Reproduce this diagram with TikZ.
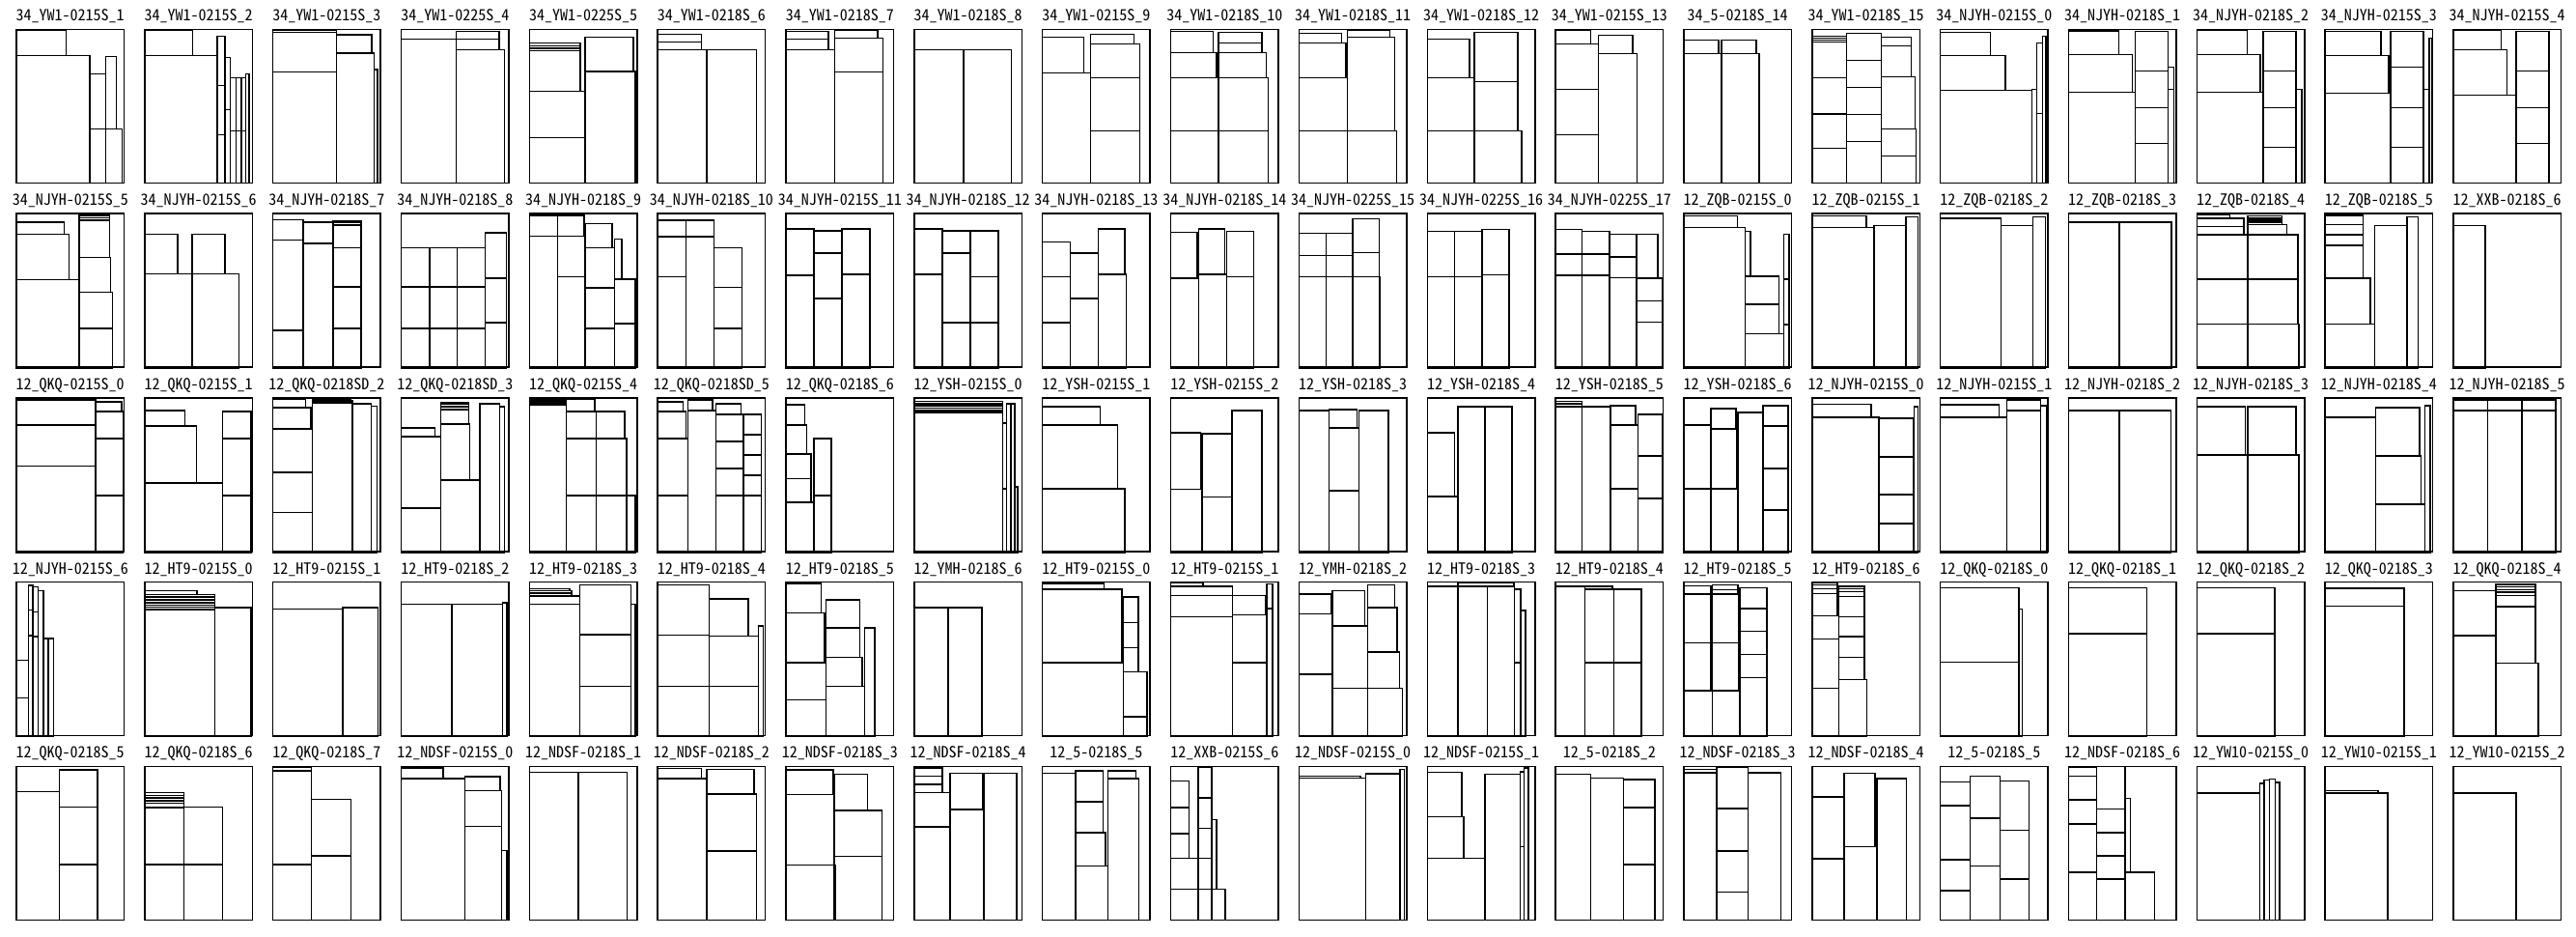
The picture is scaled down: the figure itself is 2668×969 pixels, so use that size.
\documentclass[tikz,border=0pt]{standalone}
\usepackage{fontspec}
\newfontfamily\lblfont[RawFeature=+hwid]{Noto Sans CJK JP}
\tikzset{
  pc/.style={draw=black, line width=0.45pt},
  lbl/.style={font=\lblfont\fontsize{4.8}{5}\selectfont, inner sep=0pt, anchor=base}
}
\newcommand\pnl[6]{%
  \pgfmathsetmacro\pxo{17+132.84*#1}%
  \pgfmathsetmacro\pyo{30.3+190.8*#2}%
  \pgfmathsetmacro\psx{\pxo-#3*0.42535}%
  \pgfmathsetmacro\psy{\pyo-#4/3}%
  \node[lbl] (lab-#1-#2) at (\pxo+55.75,\pyo-8.7) {#5};
  \begin{scope}[shift={(\psx,\psy)},xscale=0.42535,yscale=0.333333]
    \draw[pc] #6;
  \end{scope}
  \draw[pc] (\pxo,\pyo) rectangle ++(111.5,159);
}
\begin{document}
\begin{tikzpicture}[x=0.3pt,y=-0.3pt]
\fill[white] (0,0) rectangle (2668,969);
\useasboundingbox (0,0) rectangle (2668,969);
% ---------- row 1 ----------
\pnl{0}{0}{40}{91}{34\_YW1-0215S\_1}{(40,91) rectangle (161,94) (40,94) rectangle (161,172) (40,172) rectangle (219,568) (219,229) rectangle (257,400) (219,400) rectangle (257,568) (257,175) rectangle (283,400) (257,400) rectangle (297,568)}
\pnl{1}{0}{354}{91}{34\_YW1-0215S\_2}{(354,91) rectangle (471,94) (354,94) rectangle (471,172) (354,172) rectangle (531,568) (531,112) rectangle (549,266) (531,266) rectangle (549,418) (531,418) rectangle (549,568) (549,178) rectangle (563,341) (549,341) rectangle (563,568) (563,241) rectangle (577,406) (563,406) rectangle (577,568) (577,241) rectangle (589,406) (577,406) rectangle (589,568) (589,241) rectangle (600,406) (589,406) rectangle (600,568) (600,229) rectangle (608,568)}
\pnl{2}{0}{666}{91}{34\_YW1-0215S\_3}{(666,93) rectangle (821,100) (666,100) rectangle (821,224) (666,224) rectangle (821,568) (821,108) rectangle (906,165) (821,165) rectangle (913,568) (913,216) rectangle (921,568)}
\pnl{3}{0}{979}{91}{34\_YW1-0225S\_4}{(979,121) rectangle (1113,568) (1113,97) rectangle (1217,121) (1113,121) rectangle (1217,154) (1113,154) rectangle (1231,568)}
\pnl{4}{0}{1290}{91}{34\_YW1-0225S\_5}{(1290,133) rectangle (1414,143) (1290,143) rectangle (1414,150) (1290,150) rectangle (1414,158) (1290,158) rectangle (1414,284) (1290,284) rectangle (1426,428) (1290,428) rectangle (1426,568) (1426,116) rectangle (1543,222) (1426,222) rectangle (1548,568)}
\pnl{5}{0}{33}{91}{34\_YW1-0218S\_6}{(33,106) rectangle (139,130) (33,130) rectangle (139,155) (33,155) rectangle (153,568) (153,155) rectangle (273,568)}
\pnl{6}{0}{347}{91}{34\_YW1-0218S\_7}{(347,98) rectangle (450,122) (347,122) rectangle (450,155) (347,155) rectangle (466,568) (466,95) rectangle (570,119) (466,119) rectangle (583,224) (466,224) rectangle (583,568)}
\pnl{7}{0}{659}{91}{34\_YW1-0218S\_8}{(659,155) rectangle (779,568) (779,155) rectangle (896,568)}
\pnl{8}{0}{972}{91}{34\_YW1-0215S\_9}{(972,116) rectangle (1073,227) (972,227) rectangle (1089,568) (1089,107) rectangle (1195,137) (1089,137) rectangle (1209,242) (1089,242) rectangle (1209,407) (1089,407) rectangle (1209,568)}
\pnl{9}{0}{1285}{91}{34\_YW1-0218S\_10}{(1285,98) rectangle (1388,163) (1285,163) rectangle (1397,242) (1285,242) rectangle (1401,407) (1285,407) rectangle (1401,568) (1401,101) rectangle (1507,133) (1401,133) rectangle (1507,163) (1401,163) rectangle (1517,242) (1401,242) rectangle (1522,407) (1401,407) rectangle (1522,568)}
\pnl{10}{0}{29}{91}{34\_YW1-0218S\_11}{(29,103) rectangle (133,133) (29,133) rectangle (143,241) (29,241) rectangle (147,407) (29,407) rectangle (147,568) (147,93) rectangle (250,116) (147,116) rectangle (262,407) (147,407) rectangle (267,568)}
\pnl{11}{0}{340}{91}{34\_YW1-0218S\_12}{(340,121) rectangle (443,241) (340,241) rectangle (455,407) (340,407) rectangle (455,568) (455,100) rectangle (560,254) (455,254) rectangle (560,407) (455,407) rectangle (570,568)}
\pnl{12}{0}{652}{91}{34\_YW1-0215S\_13}{(652,93) rectangle (737,137) (652,137) rectangle (756,277) (652,277) rectangle (756,418) (652,418) rectangle (756,568) (756,109) rectangle (840,166) (756,166) rectangle (850,568)}
\pnl{13}{0}{965}{91}{34\_5-0218S\_14}{(965,124) rectangle (1050,166) (1057,124) rectangle (1141,166) (965,166) rectangle (1057,568) (1057,166) rectangle (1149,568)}
\pnl{14}{0}{1277}{91}{34\_YW1-0218S\_15}{(1277,112) rectangle (1361,118) (1277,118) rectangle (1361,124) (1277,124) rectangle (1361,131) (1277,131) rectangle (1361,241) (1277,241) rectangle (1361,354) (1277,354) rectangle (1361,461) (1277,461) rectangle (1361,568) (1361,103) rectangle (1446,187) (1361,187) rectangle (1446,271) (1361,271) rectangle (1446,355) (1361,355) rectangle (1446,439) (1361,439) rectangle (1446,568) (1446,115) rectangle (1519,142) (1446,142) rectangle (1519,238) (1446,238) rectangle (1528,400) (1446,400) rectangle (1530,485) (1446,485) rectangle (1530,568)}
\pnl{15}{0}{22}{91}{34\_NJYH-0215S\_0}{(22,100) rectangle (144,172) (22,172) rectangle (180,281) (22,281) rectangle (245,568) (245,277) rectangle (257,568) (257,133) rectangle (271,353) (257,353) rectangle (271,568) (271,112) rectangle (279,568)}
\pnl{16}{0}{335}{91}{34\_NJYH-0218S\_1}{(335,93) rectangle (457,96) (335,96) rectangle (457,170) (335,170) rectangle (490,287) (335,287) rectangle (497,568) (497,97) rectangle (577,220) (497,220) rectangle (577,334) (497,334) rectangle (577,446) (497,446) rectangle (577,568) (577,209) rectangle (591,278) (577,278) rectangle (591,568)}
\pnl{17}{0}{647}{91}{34\_NJYH-0218S\_2}{(647,93) rectangle (770,170) (647,170) rectangle (802,287) (647,287) rectangle (809,568) (809,97) rectangle (889,220) (809,220) rectangle (889,334) (809,334) rectangle (889,458) (809,458) rectangle (889,568) (889,278) rectangle (902,568)}
\pnl{18}{0}{958}{91}{34\_NJYH-0215S\_3}{(958,97) rectangle (1094,173) (958,173) rectangle (1113,290) (958,290) rectangle (1118,568) (1118,97) rectangle (1197,208) (1118,208) rectangle (1197,334) (1118,334) rectangle (1197,458) (1118,458) rectangle (1197,568) (1197,277) rectangle (1211,568) (1211,119) rectangle (1217,568)}
\pnl{19}{0}{1270}{91}{34\_NJYH-0215S\_4}{(1270,93) rectangle (1386,155) (1270,155) rectangle (1400,296) (1270,296) rectangle (1423,568) (1423,97) rectangle (1503,220) (1423,220) rectangle (1503,334) (1423,334) rectangle (1503,446) (1423,446) rectangle (1503,568)}
% ---------- row 2 ----------
\pnl{0}{1}{40}{663}{34\_NJYH-0215S\_5}{(40,690) rectangle (156,727) (40,727) rectangle (168,868) (40,868) rectangle (193,1143) (193,669) rectangle (267,676) (193,676) rectangle (267,683) (193,683) rectangle (267,799) (193,799) rectangle (269,907) (193,907) rectangle (274,1019) (193,1019) rectangle (274,1143)}
\pnl{1}{1}{354}{663}{34\_NJYH-0215S\_6}{(354,727) rectangle (434,850) (469,727) rectangle (549,850) (354,850) rectangle (469,1143) (469,850) rectangle (584,1143)}
\pnl{2}{1}{666}{663}{34\_NJYH-0218S\_7}{(666,682) rectangle (740,745) (666,745) rectangle (740,1025) (666,1025) rectangle (740,1143) (740,690) rectangle (812,755) (740,755) rectangle (812,1143) (812,685) rectangle (881,690) (812,690) rectangle (881,698) (812,698) rectangle (881,769) (812,769) rectangle (881,891) (812,891) rectangle (881,1019) (812,1019) rectangle (881,1143)}
\pnl{3}{1}{979}{663}{34\_NJYH-0218S\_8}{(979,769) rectangle (1048,891) (1048,769) rectangle (1115,891) (1115,769) rectangle (1184,891) (979,891) rectangle (1048,1019) (1048,891) rectangle (1115,1019) (1115,891) rectangle (1184,1019) (979,1019) rectangle (1048,1143) (1048,1019) rectangle (1115,1143) (1115,1019) rectangle (1184,1143) (1184,723) rectangle (1235,864) (1184,864) rectangle (1235,1002) (1184,1002) rectangle (1235,1143)}
\pnl{4}{1}{1290}{663}{34\_NJYH-0218S\_9}{(1290,665) rectangle (1358,668) (1358,665) rectangle (1423,668) (1290,668) rectangle (1358,733) (1358,668) rectangle (1423,733) (1290,733) rectangle (1358,1143) (1358,733) rectangle (1426,859) (1358,859) rectangle (1426,1143) (1426,694) rectangle (1491,769) (1426,769) rectangle (1497,893) (1426,893) rectangle (1497,1019) (1426,1019) rectangle (1497,1143) (1497,742) rectangle (1515,866) (1497,866) rectangle (1548,1004) (1497,1004) rectangle (1548,1143)}
\pnl{5}{1}{33}{663}{34\_NJYH-0218S\_10}{(33,683) rectangle (102,735) (102,683) rectangle (170,735) (33,735) rectangle (102,859) (33,859) rectangle (102,1143) (102,735) rectangle (170,1143) (170,769) rectangle (238,892) (170,892) rectangle (238,1019) (170,1019) rectangle (238,1143)}
\pnl{6}{1}{347}{663}{34\_NJYH-0215S\_11}{(347,710) rectangle (415,855) (347,855) rectangle (415,1143) (415,716) rectangle (483,785) (415,785) rectangle (483,927) (415,927) rectangle (483,1143) (483,710) rectangle (551,851) (483,851) rectangle (551,1143)}
\pnl{7}{1}{659}{663}{34\_NJYH-0218S\_12}{(659,710) rectangle (727,851) (659,851) rectangle (727,1143) (727,716) rectangle (796,785) (727,785) rectangle (796,1001) (727,1001) rectangle (796,1143) (796,716) rectangle (864,859) (796,859) rectangle (864,1001) (796,1001) rectangle (864,1143)}
\pnl{8}{1}{972}{663}{34\_NJYH-0218S\_13}{(972,751) rectangle (1040,859) (972,859) rectangle (1040,1001) (972,1001) rectangle (1040,1143) (1040,785) rectangle (1108,927) (1040,927) rectangle (1108,1143) (1108,710) rectangle (1172,851) (1108,851) rectangle (1176,1143)}
\pnl{9}{1}{1285}{663}{34\_NJYH-0218S\_14}{(1285,721) rectangle (1349,864) (1285,864) rectangle (1353,1143) (1353,710) rectangle (1417,851) (1353,851) rectangle (1421,1143) (1421,718) rectangle (1487,859) (1421,859) rectangle (1487,1143)}
\pnl{10}{1}{29}{663}{34\_NJYH-0225S\_15}{(29,724) rectangle (95,793) (95,724) rectangle (160,793) (29,793) rectangle (95,859) (95,793) rectangle (160,859) (160,679) rectangle (224,784) (160,784) rectangle (224,859) (29,859) rectangle (95,1143) (95,859) rectangle (160,1143) (160,859) rectangle (226,1143)}
\pnl{11}{1}{340}{663}{34\_NJYH-0225S\_16}{(340,718) rectangle (406,859) (406,718) rectangle (473,859) (473,712) rectangle (539,853) (340,859) rectangle (406,1143) (406,859) rectangle (473,1143) (473,853) rectangle (539,1143)}
\pnl{12}{1}{652}{663}{34\_NJYH-0225S\_17}{(652,712) rectangle (717,789) (717,718) rectangle (783,789) (652,789) rectangle (717,855) (717,789) rectangle (783,855) (783,727) rectangle (849,797) (783,797) rectangle (849,862) (849,727) rectangle (901,864) (652,855) rectangle (717,1143) (717,855) rectangle (783,1143) (783,862) rectangle (849,1143) (849,864) rectangle (913,934) (849,934) rectangle (913,1000) (849,1000) rectangle (913,1143)}
\pnl{13}{1}{965}{663}{12\_ZQB-0215S\_0}{(965,670) rectangle (1096,706) (965,706) rectangle (1114,1143) (1114,718) rectangle (1127,857) (1114,857) rectangle (1197,945) (1114,945) rectangle (1197,1036) (1114,1036) rectangle (1209,1143) (1209,727) rectangle (1221,866) (1209,866) rectangle (1221,1007) (1209,1007) rectangle (1221,1143)}
\pnl{14}{1}{1277}{663}{12\_ZQB-0215S\_1}{(1277,670) rectangle (1409,706) (1277,706) rectangle (1428,1143) (1428,700) rectangle (1506,1143) (1506,673) rectangle (1535,1143)}
\pnl{15}{1}{22}{663}{12\_ZQB-0218S\_2}{(22,677) rectangle (170,1143) (170,700) rectangle (247,1143) (247,673) rectangle (278,1143)}
\pnl{16}{1}{335}{663}{12\_ZQB-0218S\_3}{(335,689) rectangle (459,1143) (459,689) rectangle (586,1143)}
\pnl{17}{1}{647}{663}{12\_ZQB-0218S\_4}{(647,665) rectangle (727,677) (647,677) rectangle (762,703) (647,703) rectangle (762,728) (771,670) rectangle (854,677) (771,677) rectangle (854,684) (771,684) rectangle (854,690) (771,690) rectangle (854,697) (771,697) rectangle (866,728) (647,728) rectangle (771,866) (771,728) rectangle (893,866) (647,866) rectangle (771,1006) (771,866) rectangle (893,1006) (647,1006) rectangle (771,1143) (771,1006) rectangle (896,1143)}
\pnl{18}{1}{958}{663}{12\_ZQB-0218S\_5}{(958,665) rectangle (1051,668) (958,668) rectangle (1051,697) (958,697) rectangle (1051,729) (958,729) rectangle (1051,762) (958,762) rectangle (1051,864) (958,864) rectangle (1068,1006) (958,1006) rectangle (1079,1143) (1079,700) rectangle (1157,1143) (1157,673) rectangle (1185,1143)}
\pnl{19}{1}{1270}{663}{12\_XXB-0218S\_6}{(1270,700) rectangle (1348,1143)}
% ---------- row 3 ----------
\pnl{0}{2}{40}{88}{12\_QKQ-0215S\_0}{(40,90) rectangle (233,95) (40,95) rectangle (233,173) (40,173) rectangle (233,300) (40,300) rectangle (233,568) (233,100) rectangle (296,130) (233,130) rectangle (300,214) (233,214) rectangle (300,391) (233,391) rectangle (300,568)}
\pnl{1}{2}{354}{88}{12\_QKQ-0215S\_1}{(354,127) rectangle (452,175) (354,175) rectangle (480,352) (354,352) rectangle (544,568) (544,130) rectangle (613,214) (544,214) rectangle (613,391) (544,391) rectangle (613,568)}
\pnl{2}{2}{666}{88}{12\_QKQ-0218SD\_2}{(666,93) rectangle (746,118) (666,118) rectangle (758,185) (666,185) rectangle (762,320) (666,320) rectangle (762,444) (666,444) rectangle (762,568) (762,92) rectangle (856,98) (762,98) rectangle (860,103) (762,103) rectangle (860,568) (860,106) rectangle (905,568) (905,114) rectangle (920,568)}
\pnl{3}{2}{979}{88}{12\_QKQ-0218SD\_3}{(979,181) rectangle (1061,208) (979,208) rectangle (1075,431) (979,431) rectangle (1075,568) (1075,103) rectangle (1143,108) (1075,108) rectangle (1143,116) (1075,116) rectangle (1143,124) (1075,124) rectangle (1143,170) (1075,170) rectangle (1146,344) (1075,344) rectangle (1171,568) (1171,107) rectangle (1219,568) (1219,116) rectangle (1231,568)}
\pnl{4}{2}{1290}{88}{12\_QKQ-0215S\_4}{(1290,91) rectangle (1380,97) (1290,97) rectangle (1380,103) (1290,103) rectangle (1380,110) (1290,110) rectangle (1380,568) (1380,93) rectangle (1449,130) (1380,130) rectangle (1453,214) (1453,130) rectangle (1522,214) (1380,214) rectangle (1453,391) (1453,214) rectangle (1526,391) (1380,391) rectangle (1453,568) (1453,391) rectangle (1526,568) (1526,391) rectangle (1548,568)}
\pnl{5}{2}{33}{88}{12\_QKQ-0218SD\_5}{(33,100) rectangle (95,130) (33,130) rectangle (102,214) (33,214) rectangle (106,391) (33,391) rectangle (106,568) (106,95) rectangle (167,127) (106,127) rectangle (175,568) (175,106) rectangle (236,140) (175,140) rectangle (242,224) (175,224) rectangle (242,308) (175,308) rectangle (242,391) (175,391) rectangle (242,568) (242,140) rectangle (285,203) (242,203) rectangle (285,266) (242,266) rectangle (285,329) (242,329) rectangle (285,391) (242,391) rectangle (285,568)}
\pnl{6}{2}{347}{88}{12\_QKQ-0218S\_6}{(347,109) rectangle (393,173) (347,173) rectangle (398,262) (347,262) rectangle (408,339) (347,339) rectangle (408,412) (347,412) rectangle (415,568) (415,214) rectangle (457,391) (415,391) rectangle (457,568)}
\pnl{7}{2}{659}{88}{12\_YSH-0215S\_0}{(659,99) rectangle (874,106) (659,106) rectangle (874,113) (659,113) rectangle (874,120) (659,120) rectangle (874,127) (659,127) rectangle (874,134) (659,134) rectangle (874,568) (874,166) rectangle (884,371) (874,371) rectangle (884,568) (884,106) rectangle (894,568) (894,106) rectangle (904,568) (904,364) rectangle (911,568)}
\pnl{8}{2}{972}{88}{12\_YSH-0215S\_1}{(972,116) rectangle (1112,173) (972,173) rectangle (1155,371) (972,371) rectangle (1173,568)}
\pnl{9}{2}{1285}{88}{12\_YSH-0215S\_2}{(1285,197) rectangle (1358,372) (1285,372) rectangle (1361,568) (1361,200) rectangle (1434,396) (1361,396) rectangle (1434,568) (1434,127) rectangle (1507,568)}
\pnl{10}{2}{29}{88}{12\_YSH-0218S\_3}{(29,127) rectangle (102,568) (102,124) rectangle (170,181) (102,181) rectangle (175,377) (102,377) rectangle (175,568) (175,127) rectangle (247,568)}
\pnl{11}{2}{340}{88}{12\_YSH-0218S\_4}{(340,197) rectangle (406,394) (340,394) rectangle (415,568) (415,116) rectangle (481,568) (481,116) rectangle (546,568)}
\pnl{12}{2}{652}{88}{12\_YSH-0218S\_5}{(652,99) rectangle (717,106) (652,106) rectangle (717,116) (652,116) rectangle (717,568) (717,116) rectangle (786,568) (786,113) rectangle (847,173) (786,173) rectangle (853,371) (786,371) rectangle (853,568) (853,140) rectangle (913,268) (853,268) rectangle (913,400) (853,400) rectangle (913,568)}
\pnl{13}{2}{965}{88}{12\_YSH-0218S\_6}{(965,173) rectangle (1031,371) (965,371) rectangle (1031,568) (1031,121) rectangle (1092,184) (1031,184) rectangle (1094,371) (1031,371) rectangle (1097,568) (1097,133) rectangle (1158,568) (1158,112) rectangle (1219,176) (1158,176) rectangle (1219,307) (1158,307) rectangle (1219,437) (1158,437) rectangle (1219,568)}
\pnl{14}{2}{1277}{88}{12\_NJYH-0215S\_0}{(1277,108) rectangle (1421,148) (1277,148) rectangle (1440,568) (1440,151) rectangle (1523,271) (1440,271) rectangle (1523,388) (1440,388) rectangle (1523,479) (1440,479) rectangle (1523,568) (1525,116) rectangle (1535,568)}
\pnl{15}{2}{22}{88}{12\_NJYH-0215S\_1}{(22,109) rectangle (165,148) (22,148) rectangle (184,568) (184,95) rectangle (266,127) (184,127) rectangle (266,568) (266,113) rectangle (281,568)}
\pnl{16}{2}{335}{88}{12\_NJYH-0218S\_2}{(335,127) rectangle (459,568) (459,127) rectangle (584,568)}
\pnl{17}{2}{647}{88}{12\_NJYH-0218S\_3}{(647,116) rectangle (765,265) (771,116) rectangle (889,265) (647,265) rectangle (771,568) (771,265) rectangle (896,568)}
\pnl{18}{2}{958}{88}{12\_NJYH-0218S\_4}{(958,148) rectangle (1081,568) (1081,119) rectangle (1188,268) (1081,268) rectangle (1192,418) (1081,418) rectangle (1201,568) (1201,112) rectangle (1214,568)}
\pnl{19}{2}{1270}{88}{12\_NJYH-0218S\_5}{(1270,95) rectangle (1354,127) (1354,95) rectangle (1437,127) (1437,95) rectangle (1519,127) (1270,127) rectangle (1354,568) (1354,127) rectangle (1437,568) (1437,127) rectangle (1519,568)}
% ---------- row 4 ----------
\pnl{0}{3}{40}{663}{12\_NJYH-0215S\_6}{(40,905) rectangle (69,1022) (40,1022) rectangle (69,1141) (69,673) rectangle (80,750) (69,750) rectangle (80,829) (69,829) rectangle (80,1141) (80,677) rectangle (93,755) (80,755) rectangle (93,832) (80,832) rectangle (93,1141) (93,690) rectangle (106,1141) (106,838) rectangle (118,1141) (118,838) rectangle (130,1141)}
\pnl{1}{3}{354}{663}{12\_HT9-0215S\_0}{(354,690) rectangle (481,702) (354,702) rectangle (525,709) (354,709) rectangle (525,718) (354,718) rectangle (525,727) (354,727) rectangle (525,735) (354,735) rectangle (525,741) (354,741) rectangle (525,748) (354,748) rectangle (525,1141) (525,742) rectangle (613,1141)}
\pnl{2}{3}{666}{663}{12\_HT9-0215S\_1}{(666,747) rectangle (836,1141) (836,742) rectangle (922,1141)}
\pnl{3}{3}{979}{663}{12\_HT9-0218S\_2}{(979,731) rectangle (1102,1141) (1102,731) rectangle (1226,1141) (1226,727) rectangle (1236,1141)}
\pnl{4}{3}{1290}{663}{12\_HT9-0218S\_3}{(1290,684) rectangle (1388,690) (1290,690) rectangle (1392,697) (1290,697) rectangle (1392,706) (1290,706) rectangle (1413,731) (1290,731) rectangle (1413,1141) (1413,671) rectangle (1537,826) (1413,826) rectangle (1537,986) (1413,986) rectangle (1537,1141) (1537,731) rectangle (1548,1141)}
\pnl{5}{3}{33}{663}{12\_HT9-0218S\_4}{(33,671) rectangle (158,827) (33,827) rectangle (158,986) (33,986) rectangle (158,1141) (158,715) rectangle (254,830) (158,830) rectangle (278,986) (158,986) rectangle (278,1141) (278,799) rectangle (290,1141)}
\pnl{6}{3}{347}{663}{12\_HT9-0218S\_5}{(347,665) rectangle (433,667) (347,667) rectangle (433,758) (347,758) rectangle (441,913) (347,913) rectangle (445,1028) (347,1028) rectangle (445,1141) (445,718) rectangle (527,805) (445,805) rectangle (527,897) (445,897) rectangle (533,986) (445,986) rectangle (539,1141) (539,805) rectangle (563,1141)}
\pnl{7}{3}{659}{663}{12\_YMH-0218S\_6}{(659,742) rectangle (741,1141) (741,742) rectangle (824,1141)}
\pnl{8}{3}{972}{663}{12\_HT9-0215S\_0}{(972,665) rectangle (1122,668) (972,668) rectangle (1122,685) (972,685) rectangle (1165,913) (972,913) rectangle (1169,1141) (1169,709) rectangle (1205,789) (1169,789) rectangle (1205,867) (1169,867) rectangle (1205,941) (1169,941) rectangle (1226,1081) (1169,1081) rectangle (1226,1141)}
\pnl{9}{3}{1285}{663}{12\_HT9-0215S\_1}{(1285,666) rectangle (1363,676) (1285,676) rectangle (1435,704) (1285,704) rectangle (1435,770) (1285,770) rectangle (1435,1141) (1435,704) rectangle (1515,765) (1435,765) rectangle (1519,913) (1435,913) rectangle (1519,1141) (1519,668) rectangle (1533,745) (1519,745) rectangle (1533,1141)}
\pnl{10}{3}{29}{663}{12\_YMH-0218S\_2}{(29,700) rectangle (107,761) (29,761) rectangle (110,949) (29,949) rectangle (110,1141) (110,690) rectangle (189,799) (110,799) rectangle (196,992) (110,992) rectangle (196,1141) (196,671) rectangle (262,742) (196,742) rectangle (268,880) (196,880) rectangle (274,992) (196,992) rectangle (281,1141)}
\pnl{11}{3}{340}{663}{12\_HT9-0218S\_3}{(340,676) rectangle (415,1141) (415,666) rectangle (551,676) (415,676) rectangle (486,1141) (486,676) rectangle (552,1141) (552,685) rectangle (568,913) (552,913) rectangle (568,1141) (568,751) rectangle (579,1141)}
\pnl{12}{3}{652}{663}{12\_HT9-0218S\_4}{(652,676) rectangle (723,1141) (723,676) rectangle (790,685) (723,685) rectangle (794,913) (723,913) rectangle (794,1141) (794,685) rectangle (861,913) (794,913) rectangle (861,1141)}
\pnl{13}{3}{965}{663}{12\_HT9-0218S\_5}{(965,674) rectangle (1031,700) (965,700) rectangle (1031,851) (965,851) rectangle (1031,1000) (965,1000) rectangle (1035,1141) (1035,671) rectangle (1097,686) (1035,686) rectangle (1097,700) (1035,700) rectangle (1099,851) (1035,851) rectangle (1099,1000) (1035,1000) rectangle (1102,1141) (1102,680) rectangle (1167,745) (1102,745) rectangle (1167,815) (1102,815) rectangle (1167,887) (1102,887) rectangle (1167,959) (1102,959) rectangle (1167,1141)}
\pnl{14}{3}{1277}{663}{12\_HT9-0218S\_6}{(1277,666) rectangle (1339,671) (1277,671) rectangle (1339,683) (1277,683) rectangle (1339,699) (1277,699) rectangle (1339,767) (1277,767) rectangle (1342,840) (1277,840) rectangle (1342,992) (1277,992) rectangle (1342,1141) (1342,676) rectangle (1405,684) (1342,684) rectangle (1405,693) (1342,693) rectangle (1405,707) (1342,707) rectangle (1405,770) (1342,770) rectangle (1405,832) (1342,832) rectangle (1405,897) (1342,897) rectangle (1405,965) (1342,965) rectangle (1410,1141)}
\pnl{15}{3}{22}{663}{12\_QKQ-0218S\_0}{(22,680) rectangle (213,911) (22,911) rectangle (213,1141) (213,747) rectangle (222,1141)}
\pnl{16}{3}{335}{663}{12\_QKQ-0218S\_1}{(335,680) rectangle (525,823) (335,823) rectangle (525,1141)}
\pnl{17}{3}{647}{663}{12\_QKQ-0218S\_2}{(647,680) rectangle (837,823) (647,823) rectangle (837,1141)}
\pnl{18}{3}{958}{663}{12\_QKQ-0218S\_3}{(958,682) rectangle (1150,737) (958,737) rectangle (1150,1141)}
\pnl{19}{3}{1270}{663}{12\_QKQ-0218S\_4}{(1270,690) rectangle (1373,829) (1270,829) rectangle (1373,1141) (1373,670) rectangle (1470,678) (1373,678) rectangle (1470,686) (1373,686) rectangle (1470,694) (1373,694) rectangle (1470,705) (1373,705) rectangle (1470,739) (1373,739) rectangle (1470,915) (1373,915) rectangle (1477,1141)}
% ---------- row 5 ----------
\pnl{0}{4}{40}{76}{12\_QKQ-0218S\_5}{(40,154) rectangle (145,553) (145,86) rectangle (238,202) (145,202) rectangle (238,380) (145,380) rectangle (238,553)}
\pnl{1}{4}{354}{76}{12\_QKQ-0218S\_6}{(354,157) rectangle (449,166) (354,166) rectangle (449,174) (354,174) rectangle (449,182) (354,182) rectangle (449,190) (354,190) rectangle (449,203) (354,203) rectangle (449,380) (354,380) rectangle (449,553) (449,202) rectangle (544,380) (449,380) rectangle (544,553)}
\pnl{2}{4}{666}{76}{12\_QKQ-0218S\_7}{(666,78) rectangle (760,89) (666,89) rectangle (760,380) (666,380) rectangle (760,553) (760,178) rectangle (856,353) (760,353) rectangle (856,553)}
\pnl{3}{4}{979}{76}{12\_NDSF-0215S\_0}{(979,77) rectangle (1081,82) (979,82) rectangle (1081,113) (979,113) rectangle (1134,553) (1134,108) rectangle (1220,151) (1134,151) rectangle (1223,262) (1134,262) rectangle (1223,553) (1223,337) rectangle (1236,553)}
\pnl{4}{4}{1290}{76}{12\_NDSF-0218S\_1}{(1290,94) rectangle (1409,553) (1409,94) rectangle (1528,553)}
\pnl{5}{4}{33}{76}{12\_NDSF-0218S\_2}{(33,82) rectangle (139,113) (33,113) rectangle (153,553) (153,85) rectangle (268,162) (153,162) rectangle (273,338) (153,338) rectangle (273,553)}
\pnl{6}{4}{347}{76}{12\_NDSF-0218S\_3}{(347,86) rectangle (462,163) (347,163) rectangle (465,382) (347,382) rectangle (467,553) (465,100) rectangle (546,212) (465,212) rectangle (581,355) (465,355) rectangle (581,553)}
\pnl{7}{4}{659}{76}{12\_NDSF-0218S\_4}{(659,77) rectangle (727,80) (659,80) rectangle (727,106) (659,106) rectangle (727,131) (659,131) rectangle (727,157) (659,157) rectangle (745,264) (659,264) rectangle (746,553) (746,97) rectangle (826,210) (746,210) rectangle (829,553) (829,97) rectangle (908,553)}
\pnl{8}{4}{972}{76}{12\_5-0218S\_5}{(972,97) rectangle (1052,553) (1052,89) rectangle (1119,185) (1052,185) rectangle (1119,281) (1052,281) rectangle (1126,385) (1052,385) rectangle (1131,553) (1131,89) rectangle (1199,113) (1131,113) rectangle (1207,553)}
\pnl{9}{4}{1285}{76}{12\_XXB-0215S\_6}{(1285,121) rectangle (1329,203) (1285,203) rectangle (1329,285) (1285,285) rectangle (1329,361) (1285,361) rectangle (1352,457) (1285,457) rectangle (1352,553) (1352,78) rectangle (1385,173) (1352,173) rectangle (1385,268) (1352,268) rectangle (1385,361) (1352,361) rectangle (1385,457) (1352,457) rectangle (1385,553) (1385,241) rectangle (1397,457) (1385,457) rectangle (1418,553)}
\pnl{10}{4}{29}{76}{12\_NDSF-0215S\_0}{(29,106) rectangle (178,112) (29,112) rectangle (191,553) (191,99) rectangle (275,553) (275,85) rectangle (285,553)}
\pnl{11}{4}{340}{76}{12\_NDSF-0215S\_1}{(340,94) rectangle (424,232) (340,232) rectangle (429,361) (340,361) rectangle (481,553) (481,100) rectangle (566,553) (566,92) rectangle (576,325) (566,325) rectangle (576,553) (576,80) rectangle (586,553)}
\pnl{12}{4}{652}{76}{12\_5-0218S\_2}{(652,100) rectangle (737,553) (737,112) rectangle (817,553) (817,116) rectangle (894,203) (817,203) rectangle (894,380) (817,380) rectangle (894,553)}
\pnl{13}{4}{965}{76}{12\_NDSF-0218S\_3}{(965,85) rectangle (1044,95) (965,95) rectangle (1045,553) (1045,78) rectangle (1121,206) (1045,206) rectangle (1121,339) (1045,339) rectangle (1121,466) (1045,466) rectangle (1121,553) (1121,95) rectangle (1201,553)}
\pnl{14}{4}{1277}{76}{12\_NDSF-0218S\_4}{(1277,170) rectangle (1355,362) (1277,362) rectangle (1355,553) (1355,97) rectangle (1430,325) (1355,325) rectangle (1435,553) (1435,113) rectangle (1507,553)}
\pnl{15}{4}{22}{76}{12\_5-0218S\_5}{(22,124) rectangle (95,197) (22,197) rectangle (95,366) (22,366) rectangle (95,461) (22,461) rectangle (95,553) (95,106) rectangle (167,236) (95,236) rectangle (167,385) (95,385) rectangle (167,553) (167,121) rectangle (238,274) (167,274) rectangle (238,426) (167,426) rectangle (238,553)}
\pnl{16}{4}{335}{76}{12\_NDSF-0218S\_6}{(335,78) rectangle (403,106) (335,106) rectangle (403,179) (335,179) rectangle (403,255) (335,255) rectangle (403,404) (335,404) rectangle (403,553) (403,76) rectangle (473,208) (403,208) rectangle (473,281) (403,281) rectangle (473,353) (403,353) rectangle (473,425) (403,425) rectangle (473,553) (473,175) rectangle (485,404) (473,404) rectangle (544,553)}
\pnl{17}{4}{647}{76}{12\_YW10-0215S\_0}{(647,159) rectangle (800,553) (800,128) rectangle (811,553) (811,118) rectangle (824,553) (824,115) rectangle (838,553) (838,126) rectangle (849,553)}
\pnl{18}{4}{958}{76}{12\_YW10-0215S\_1}{(958,151) rectangle (1087,159) (958,159) rectangle (1111,553)}
\pnl{19}{4}{1270}{76}{12\_YW10-0215S\_2}{(1270,159) rectangle (1423,553)}
\end{tikzpicture}
\end{document}
